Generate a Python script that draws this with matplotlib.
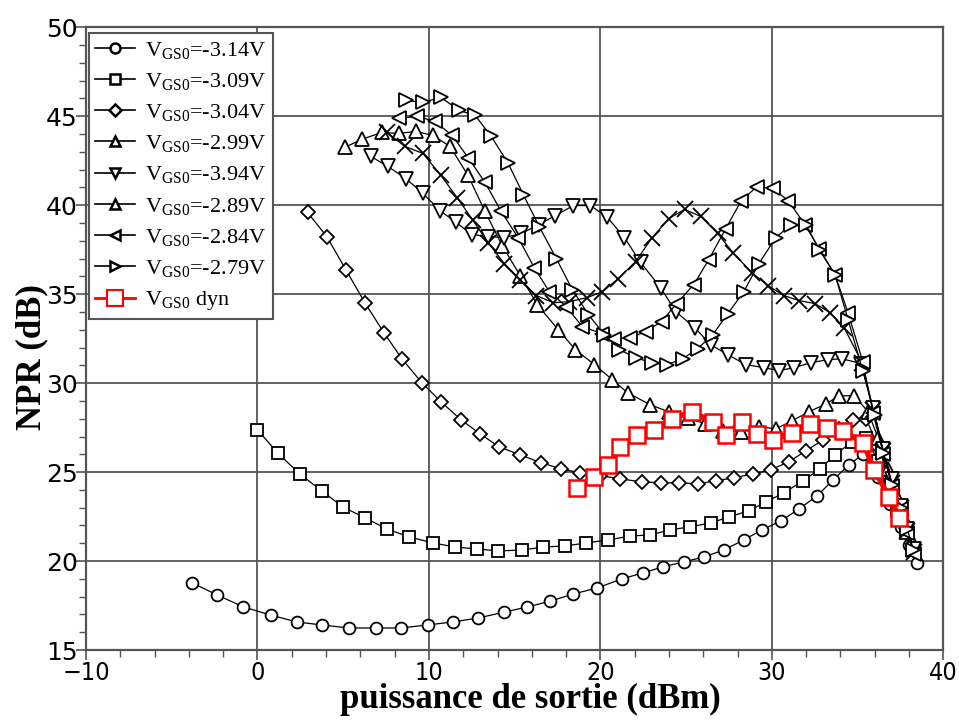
import matplotlib
matplotlib.use("Agg")
from matplotlib import pyplot as plt
from matplotlib import font_manager
from matplotlib.lines import Line2D
from matplotlib.ticker import MultipleLocator

# NPR vs output power for several gate bias values
vgs_labels = ["-3.14V", "-3.09V", "-3.04V", "-2.99V", "-3.94V", "-2.89V", "-2.84V", "-2.79V"]

x_314 = [-3.80, -2.34, -0.82, 0.76, 2.28, 3.74, 5.32, 6.90, 8.36, 9.94, 11.40, 12.87, 14.39, 15.73, 17.08, 18.42,
         19.82, 21.23, 22.46, 23.63, 24.85, 26.02, 27.19, 28.36, 29.42, 30.53, 31.58, 32.63, 33.57, 34.50, 35.30,
         36.2, 36.9, 37.5, 38.0, 38.45]
y_314 = [18.77, 18.09, 17.42, 16.97, 16.58, 16.41, 16.24, 16.24, 16.24, 16.41, 16.58, 16.80, 17.13, 17.42, 17.75, 18.15,
         18.49, 18.99, 19.33, 19.67, 19.95, 20.23, 20.62, 21.19, 21.75, 22.26, 22.93, 23.66, 24.56, 25.41, 26.0,
         24.7, 23.2, 21.9, 20.9, 19.9]

x_309 = [0.0, 1.17, 2.46, 3.74, 4.97, 6.26, 7.54, 8.83, 10.23, 11.52, 12.81, 14.04, 15.44, 16.67, 17.95, 19.18,
         20.47, 21.75, 22.92, 24.04, 25.20, 26.43, 27.49, 28.65, 29.65, 30.70, 31.81, 32.81, 33.68, 34.68, 35.5,
         36.2, 36.8, 37.3, 37.8, 38.2]
y_309 = [27.38, 26.08, 24.90, 23.95, 23.05, 22.43, 21.81, 21.36, 21.02, 20.79, 20.68, 20.57, 20.62, 20.79, 20.85, 21.02,
         21.19, 21.41, 21.47, 21.75, 21.92, 22.14, 22.48, 22.82, 23.33, 23.83, 24.51, 25.18, 25.97, 26.70, 26.9,
         25.6, 24.0, 22.8, 21.6, 20.6]

x_304 = [2.92, 4.04, 5.15, 6.26, 7.37, 8.42, 9.59, 10.70, 11.87, 12.98, 14.09, 15.32, 16.55, 17.72, 18.83, 20.0,
         21.17, 22.40, 23.51, 24.56, 25.67, 26.73, 27.78, 28.89, 29.94, 30.99, 31.99, 32.98, 33.92, 34.74, 35.5,
         36.2, 36.8, 37.4, 37.9, 38.3]
y_304 = [39.59, 38.24, 36.38, 34.52, 32.84, 31.37, 30.02, 28.95, 27.94, 27.15, 26.42, 25.97, 25.52, 25.18, 24.96, 24.8,
         24.62, 24.45, 24.40, 24.40, 24.34, 24.51, 24.68, 24.90, 25.13, 25.58, 26.20, 26.81, 27.43, 27.94, 28.0,
         26.4, 24.8, 23.2, 21.9, 20.6]

x_299 = [5.09, 6.08, 7.25, 8.25, 9.24, 10.23, 11.23, 12.28, 13.27, 14.27, 15.32, 16.32, 17.54, 18.54, 19.65, 20.70,
         21.58, 22.92, 23.98, 25.09, 26.08, 27.13, 28.19, 29.24, 30.23, 31.17, 32.16, 33.16, 33.92, 34.80, 35.6,
         36.2, 36.8, 37.3, 37.8, 38.2]
y_299 = [43.25, 43.70, 44.09, 44.03, 44.15, 43.92, 43.30, 41.67, 39.65, 37.73, 36.04, 34.41, 33.0, 31.88, 31.04, 30.19,
         29.46, 28.78, 28.39, 28.05, 27.72, 27.32, 27.27, 27.55, 27.43, 27.88, 28.39, 28.84, 29.29, 29.29, 28.4,
         26.9, 25.2, 23.6, 22.2, 21.0]

x_394 = [6.61, 7.60, 8.65, 9.65, 10.64, 11.58, 12.51, 13.45, 14.39, 15.38, 16.4, 17.37, 18.42, 19.42, 20.41, 21.40,
         22.34, 23.51, 24.39, 25.5, 26.43, 27.43, 28.48, 29.53, 30.41, 31.29, 32.28, 33.27, 34.09, 35.2, 35.9,
         36.5, 37.0, 37.5, 37.9, 38.3]
y_394 = [42.74, 42.18, 41.50, 40.66, 39.70, 39.03, 38.35, 38.24, 38.18, 38.41, 38.9, 39.42, 39.98, 39.98, 39.31, 38.18,
         36.78, 35.37, 34.02, 33.12, 32.16, 31.60, 31.04, 30.87, 30.70, 30.87, 31.15, 31.32, 31.37, 31.1, 28.6,
         26.3, 24.6, 23.1, 21.8, 20.7]

x_289 = [7.54, 8.60, 9.65, 10.70, 11.64, 12.57, 13.45, 14.39, 15.32, 16.26, 17.25, 18.19, 19.24, 20.12, 21.05, 22.05,
         22.98, 23.98, 24.91, 25.85, 26.84, 27.72, 28.83, 29.77, 30.70, 31.58, 32.51, 33.39, 34.21, 35.26, 35.9,
         36.5, 37.0, 37.5, 37.9, 38.3]
y_289 = [44.09, 43.30, 42.91, 41.67, 40.43, 39.14, 37.90, 36.72, 35.82, 34.92, 34.52, 34.58, 34.81, 35.14, 35.88, 36.83,
         38.13, 39.25, 39.76, 39.37, 38.41, 37.34, 36.21, 35.48, 34.92, 34.64, 34.47, 33.96, 33.12, 31.15, 28.5,
         26.2, 24.4, 23.0, 21.7, 20.5]

x_284 = [8.25, 9.30, 10.35, 11.35, 12.28, 13.27, 14.21, 15.2, 16.14, 17.02, 18.01, 18.95, 20.12, 20.82, 21.75, 22.63,
         23.57, 24.44, 25.44, 26.32, 27.31, 28.19, 29.12, 30.06, 30.94, 31.93, 32.75, 33.68, 34.44, 35.3, 35.9,
         36.5, 37.0, 37.5, 37.9, 38.3]
y_284 = [44.88, 44.99, 44.71, 43.92, 42.68, 41.28, 39.65, 38.18, 36.49, 35.14, 34.30, 33.17, 32.78, 32.50, 32.55, 32.89,
         33.46, 34.47, 35.54, 36.94, 38.69, 40.21, 41.05, 40.94, 40.26, 38.91, 37.56, 36.10, 33.96, 31.2, 28.3,
         26.0, 24.2, 22.9, 21.6, 20.4]

x_279 = [8.65, 9.65, 10.70, 11.75, 12.69, 13.63, 14.62, 15.50, 16.43, 17.43, 18.36, 19.30, 20.23, 21.11, 22.05, 22.98,
         23.86, 24.80, 25.67, 26.55, 27.43, 28.36, 29.24, 30.23, 31.11, 31.99, 32.75, 33.68, 34.44, 35.3, 36.0,
         36.5, 37.0, 37.5, 37.9, 38.25]
y_279 = [45.89, 45.78, 46.06, 45.33, 45.05, 43.87, 42.35, 40.60, 38.80, 37.0, 35.26, 33.85, 32.72, 31.88, 31.43, 31.15,
         31.04, 31.37, 31.94, 32.72, 33.91, 35.14, 36.72, 38.18, 38.91, 38.91, 37.51, 36.10, 33.57, 30.7, 28.2,
         26.1, 24.3, 23.0, 21.8, 20.6]

x_dyn = [18.65, 19.65, 20.47, 21.17, 22.11, 23.1, 24.15, 25.32, 26.55, 27.31, 28.25, 29.12, 30.06, 31.17, 32.22,
         33.22, 34.15, 35.32, 35.96, 36.84, 37.43]
y_dyn = [24.11, 24.73, 25.41, 26.42, 27.10, 27.38, 28.0, 28.39, 27.83, 27.10, 27.83, 27.15, 26.81, 27.21, 27.72,
         27.49, 27.32, 26.65, 25.13, 23.61, 22.43]

series_x = [x_314, x_309, x_304, x_299, x_394, x_289, x_284, x_279]
series_y = [y_314, y_309, y_304, y_299, y_394, y_289, y_284, y_279]
markers = ["o", "s", "D", "^", "v", "x", "<", ">"]
marker_sizes = [8.5, 9, 7, 10, 10, 11, 10, 10]
# the legend of the original shows a triangle for -2.89V although the curve uses crosses
legend_markers = ["o", "s", "D", "^", "v", "^", "<", ">"]


def condensed_font():
    # look for a narrow sans font for the x tick labels
    for f in font_manager.fontManager.ttflist:
        if "DejaVuSansCondensed.ttf" in f.fname:
            return font_manager.FontProperties(fname=f.fname, size=18)
    for f in font_manager.fontManager.ttflist:
        if "LiberationSansNarrow-Regular" in f.fname:
            return font_manager.FontProperties(fname=f.fname, size=18)
    return font_manager.FontProperties(family="DejaVu Sans", size=17)


plt.rcParams["mathtext.fontset"] = "custom"
plt.rcParams["mathtext.rm"] = "Liberation Serif"
plt.rcParams["mathtext.it"] = "Liberation Serif:italic"

fig = plt.figure(figsize=(9.59, 7.25), dpi=100)
ax = fig.add_axes([0.0897, 0.1034, 0.894, 0.859])

grid_col = "#555555"
for xs, ys, m, ms in zip(series_x, series_y, markers, marker_sizes):
    if m == "x":
        ax.plot(xs, ys, color="black", lw=0.9, marker=m, ms=ms, mew=1.3, zorder=3)
    else:
        ax.plot(xs, ys, color="black", lw=0.9, marker=m, ms=ms, mfc="white", mec="black", mew=1.3, zorder=3)
ax.plot(x_dyn, y_dyn, color="red", lw=3.8, marker="s", ms=11, mfc="white", mec="red", mew=1.8, zorder=5)

ax.set_xlim(-10, 40)
ax.set_ylim(15, 50)
ax.xaxis.set_major_locator(MultipleLocator(10))
ax.xaxis.set_minor_locator(MultipleLocator(2))
ax.yaxis.set_major_locator(MultipleLocator(5))
ax.yaxis.set_minor_locator(MultipleLocator(1))
ax.grid(True, which="major", color=grid_col, lw=1.3)
ax.set_axisbelow(True)
ax.tick_params(which="major", direction="out", length=7, width=1.2, color=grid_col, labelsize=18, pad=1)
ax.tick_params(which="minor", direction="out", length=5, width=1.0, color=grid_col)
ax.tick_params(axis="y", which="major", pad=-1)
for sp in ax.spines.values():
    sp.set_color(grid_col)
    sp.set_linewidth(1.6)

xfont = condensed_font()
for lab in ax.get_xticklabels():
    lab.set_fontproperties(xfont)
for lab in ax.get_yticklabels():
    lab.set_family("DejaVu Sans")
    lab.set_fontsize(18)

ax.set_xlabel("puissance de sortie (dBm)", family="Liberation Serif", weight="bold", fontsize=25)
ax.set_ylabel("NPR (dB)", family="Liberation Serif", weight="bold", fontsize=25)
ax.xaxis.set_label_coords(0.518, -0.053)
ax.yaxis.set_label_coords(-0.044, 0.47)

handles = []
for m, ms in zip(legend_markers, marker_sizes):
    handles.append(Line2D([], [], color="black", lw=1.2, marker=m, ms=min(ms, 8) * 0.9,
                          mfc="white", mec="black", mew=1.8))
handles.append(Line2D([], [], color="red", lw=2, marker="s", ms=11, mfc="white", mec="red", mew=1.5))
labels = [r"V$_{\mathrm{GS0}}$=" + v for v in vgs_labels] + [r"V$_{\mathrm{GS0}}$ dyn"]
leg = ax.legend(handles, labels, loc="upper left", bbox_to_anchor=(0.003, 0.991), borderaxespad=0,
                fancybox=False, prop={"family": "Liberation Serif", "size": 16}, labelspacing=0.46,
                handlelength=1.8, handletextpad=0.45, borderpad=0.3, framealpha=1, edgecolor=grid_col)
leg.get_frame().set_linewidth(1.5)

fig.savefig("out.png", dpi=100)
